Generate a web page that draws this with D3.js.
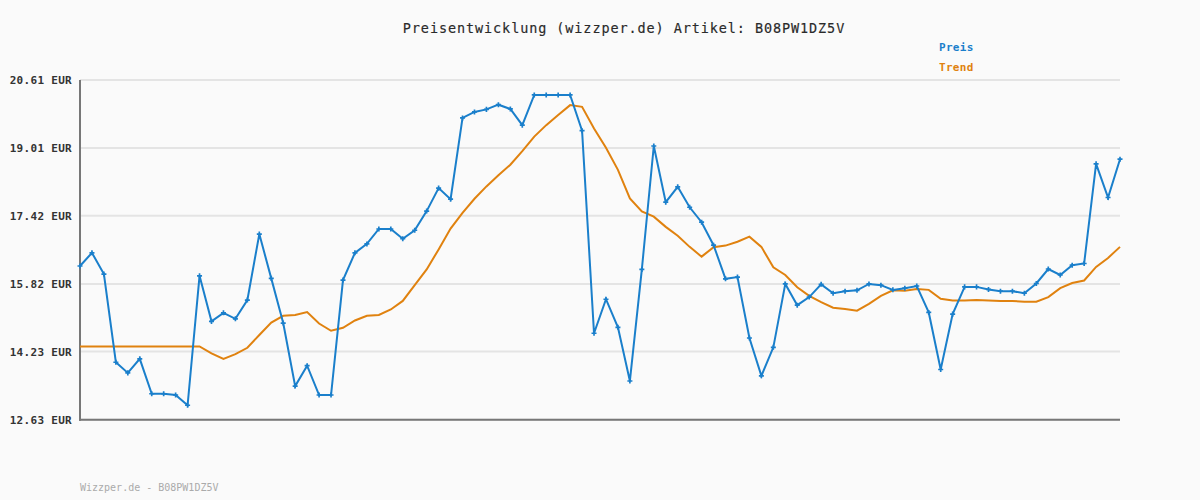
<!DOCTYPE html>
<html><head><meta charset="utf-8">
<script src="https://cdn.jsdelivr.net/npm/d3@7"></script>
<style>body{margin:0;background:#fafafa}svg{display:block}</style>
</head><body><svg id="c" width="1200" height="500"></svg>
<script>
const title = "Preisentwicklung (wizzper.de) Artikel: B08PW1DZ5V";
const footer = "Wizzper.de - B08PW1DZ5V";
const seriesNames = ["Preis", "Trend"];
const yTicks = [12.63, 14.23, 15.82, 17.42, 19.01, 20.61];
const preis = [16.24,16.55,16.05,13.98,13.73,14.06,13.24,13.24,13.21,12.97,
  16.01,14.94,15.14,15.00,15.44,16.99,15.95,14.90,13.42,13.90,
  13.21,13.21,15.91,16.55,16.76,17.11,17.11,16.88,17.08,17.53,
  18.07,17.81,19.72,19.86,19.92,20.03,19.93,19.55,20.26,20.26,
  20.26,20.26,19.42,14.66,15.46,14.80,13.54,16.16,19.06,17.74,
  18.10,17.62,17.27,16.73,15.94,15.98,14.55,13.66,14.33,15.82,
  15.32,15.51,15.81,15.60,15.65,15.67,15.82,15.79,15.68,15.72,
  15.77,15.15,13.81,15.11,15.75,15.75,15.69,15.65,15.65,15.60,
  15.83,16.17,16.03,16.26,16.30,18.64,17.85,18.75];
const trend = [14.35,14.35,14.35,14.35,14.35,14.35,14.35,14.35,14.35,14.35,
  14.35,14.19,14.06,14.17,14.32,14.62,14.91,15.07,15.09,15.16,
  14.89,14.72,14.79,14.96,15.07,15.09,15.22,15.42,15.79,16.16,
  16.63,17.12,17.49,17.82,18.11,18.37,18.62,18.94,19.28,19.55,
  19.79,20.02,19.98,19.47,19.02,18.50,17.83,17.52,17.40,17.16,
  16.95,16.69,16.46,16.68,16.72,16.81,16.93,16.69,16.21,16.03,
  15.74,15.54,15.39,15.26,15.23,15.19,15.35,15.54,15.67,15.66,
  15.70,15.68,15.47,15.43,15.43,15.44,15.43,15.42,15.42,15.40,
  15.40,15.51,15.72,15.84,15.90,16.22,16.43,16.69];
const colors = ["#1a7fcb", "#e0820f"];

const svg = d3.select("#c");
const L = 80, R = 1120, T = 80, B = 419.7;
const x = d3.scaleLinear().domain([0, preis.length - 1]).range([L, R]);
const y = d3.scaleLinear().domain([yTicks[0], yTicks[yTicks.length-1]]).range([B, T]);

svg.append("rect").attr("width",1200).attr("height",500).attr("fill","#fafafa");

// grid
svg.append("g").selectAll("line").data(yTicks).join("line")
  .attr("x1", L).attr("x2", R).attr("y1", d=>y(d)).attr("y2", d=>y(d))
  .attr("stroke", "#e4e4e4").attr("stroke-width", 2);

// y labels
svg.append("g").selectAll("text").data(yTicks).join("text")
  .attr("x", 72).attr("y", d=>y(d)+4).attr("text-anchor","end")
  .attr("font-family","DejaVu Sans Mono").attr("font-weight","bold")
  .attr("font-size", 11).attr("letter-spacing", 0.3).attr("fill","#333")
  .text(d=>d.toFixed(2)+" EUR");

// axes
svg.append("line").attr("x1",L).attr("x2",L).attr("y1",T).attr("y2",B+1).attr("stroke","#777").attr("stroke-width",2);
svg.append("line").attr("x1",L-1).attr("x2",R).attr("y1",B).attr("y2",B).attr("stroke","#777").attr("stroke-width",2);

const line = d3.line().x((d,i)=>x(i)).y(d=>y(d));
svg.append("path").datum(trend).attr("d", line).attr("fill","none")
  .attr("stroke", colors[1]).attr("stroke-width", 2);
svg.append("path").datum(preis).attr("d", line).attr("fill","none")
  .attr("stroke", colors[0]).attr("stroke-width", 2);
svg.append("g").selectAll("path").data(preis).join("path")
  .attr("transform",(d,i)=>`translate(${x(i)},${y(d)})`)
  .attr("d", d3.symbol(d3.symbolCross, 14)).attr("fill", colors[0]);

// title
svg.append("text").attr("x", 624).attr("y", 33).attr("text-anchor","middle")
  .attr("font-family","DejaVu Sans Mono").attr("font-size",13.5).attr("letter-spacing",0.9)
  .attr("fill","#2a2a2a").attr("stroke","#2a2a2a").attr("stroke-width",0.15).text(title);

// legend
seriesNames.forEach((n,i)=>{
  svg.append("text").attr("x",939).attr("y",51+i*20)
    .attr("font-family","DejaVu Sans Mono").attr("font-weight","bold").attr("font-size",11)
    .attr("letter-spacing",0.3).attr("fill",colors[i]).text(n);
});

// footer
svg.append("text").attr("x",80).attr("y",491)
  .attr("font-family","DejaVu Sans Mono").attr("font-size",10).attr("fill","#aaa").text(footer);
</script></body></html>
